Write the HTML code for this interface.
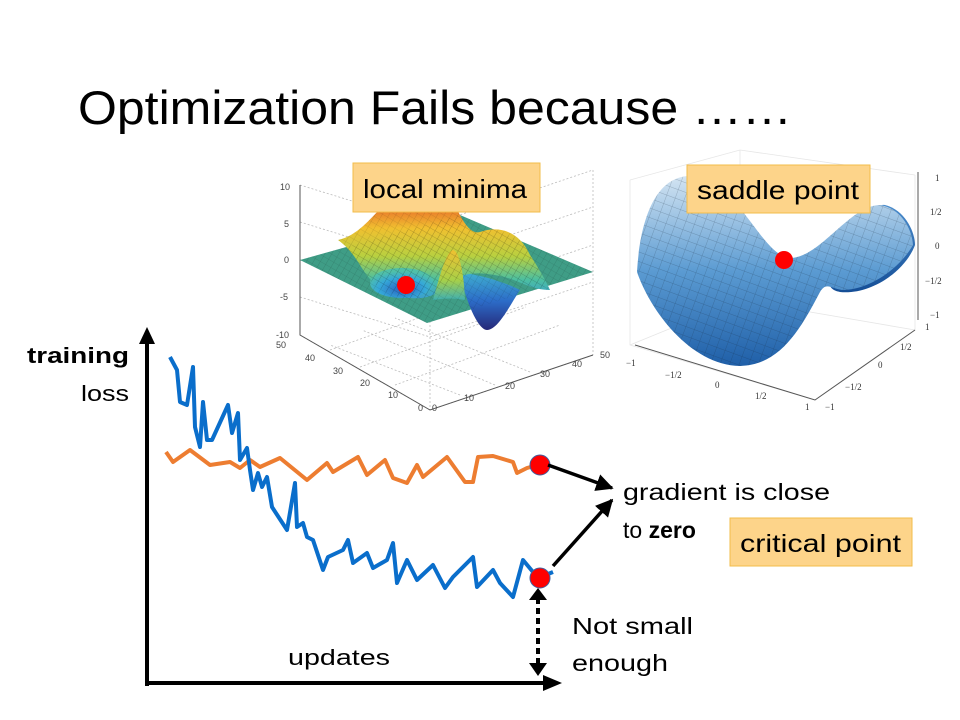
<!DOCTYPE html>
<html><head><meta charset="utf-8"><style>
html,body{margin:0;padding:0;background:#fff;}
svg{display:block;font-family:"Liberation Sans",sans-serif;}
</style></head><body>
<svg id="slide" width="960" height="720" viewBox="0 0 960 720" xmlns="http://www.w3.org/2000/svg">
<defs>
  <linearGradient id="gSad" x1="0" y1="0" x2="0" y2="1">
    <stop offset="0" stop-color="#d3e4f2"/><stop offset="0.5" stop-color="#5b9bd2"/><stop offset="1" stop-color="#1f5fa8"/>
  </linearGradient>
  <linearGradient id="gBack" x1="0" y1="0" x2="0" y2="1">
    <stop offset="0" stop-color="#4a8ccc"/><stop offset="1" stop-color="#154e96"/>
  </linearGradient>
  <linearGradient id="gMound" x1="0" y1="0" x2="0" y2="1">
    <stop offset="0" stop-color="#e8682a"/><stop offset="0.25" stop-color="#f0c030"/><stop offset="0.55" stop-color="#b8d040"/><stop offset="0.8" stop-color="#4cbfa0"/><stop offset="1" stop-color="#3aa0d0"/>
  </linearGradient>
  <linearGradient id="gMid" x1="0" y1="0" x2="0" y2="1">
    <stop offset="0" stop-color="#f0c030"/><stop offset="0.6" stop-color="#a8d048"/><stop offset="1" stop-color="#40b0b0"/>
  </linearGradient>
  <radialGradient id="gBowl" cx="0.5" cy="0.7" r="0.6">
    <stop offset="0" stop-color="#2a60c0"/><stop offset="0.6" stop-color="#35a8d8"/><stop offset="1" stop-color="#50c0a8"/>
  </radialGradient>
  <linearGradient id="gDip" x1="0" y1="0" x2="0" y2="1">
    <stop offset="0" stop-color="#40b0d0"/><stop offset="0.5" stop-color="#2c6cc8"/><stop offset="1" stop-color="#262878"/>
  </linearGradient>
  <pattern id="mesh" width="6" height="6" patternUnits="userSpaceOnUse" patternTransform="rotate(30)">
    <path d="M0 0H6M0 0V6" stroke="#000" stroke-opacity="0.22" stroke-width="0.6"/>
  </pattern>
  <pattern id="mesh2" width="9" height="9" patternUnits="userSpaceOnUse" patternTransform="rotate(20)">
    <path d="M0 0H9M0 0V9" stroke="#123" stroke-opacity="0.35" stroke-width="0.7"/>
  </pattern>
  <marker id="ah" viewBox="0 0 10 10" refX="9" refY="5" markerWidth="5" markerHeight="5" orient="auto">
    <path d="M0 0L10 5L0 10Z" fill="#000"/>
  </marker>
</defs>

<text x="78" y="124" font-size="47" textLength="714" lengthAdjust="spacingAndGlyphs" fill="#000">Optimization Fails because ……</text>

<!-- local minima 3D plot -->
<g font-size="9" fill="#444">
  <g stroke="#bbb" stroke-dasharray="2,2" fill="none" stroke-width="0.8">
    <path d="M300 185L430 225L430 410M430 225L593 170M300 185V335M593 170V355M300 335L430 410L593 355"/>
    <path d="M300 222L430 262L593 207M300 260L430 300L593 245M300 297L430 337L593 282"/>
    <path d="M330 350L496 290M360 367L526 307M395 385L560 325M460 395L330 345M495 385L362 330M530 372L395 318"/>
  </g>
  <path d="M300 185V335L430 410L593 355" stroke="#555" fill="none" stroke-width="1"/>
  <text x="280" y="190">10</text><text x="284" y="227">5</text><text x="284" y="263">0</text><text x="280" y="300">-5</text><text x="276" y="338">-10</text>
  <text x="276" y="348">50</text><text x="305" y="361">40</text><text x="333" y="374">30</text><text x="360" y="386">20</text><text x="388" y="398">10</text><text x="418" y="411">0</text>
  <text x="432" y="411">0</text><text x="464" y="401">10</text><text x="505" y="389">20</text><text x="540" y="377">30</text><text x="572" y="367">40</text><text x="600" y="358">50</text>
  <path d="M300 260L460 215L593 272L427 323Z" fill="#3f9d86"/>
  <path d="M460 272C465 300 478 330 487 330C498 330 510 305 520 290C505 282 480 275 460 272Z" fill="url(#gDip)"/>
  <path d="M338 240C360 235 372 215 385 205L455 205C462 220 470 235 480 232C500 225 520 232 530 255C540 270 548 285 550 290C530 290 520 280 500 276C480 272 465 272 455 280C440 292 430 300 410 298C385 296 372 285 360 265C352 252 345 245 338 240Z" fill="url(#gMound)"/>
  <ellipse cx="402" cy="283" rx="32" ry="15" fill="url(#gBowl)"/>
  <path d="M433 300C440 275 446 252 453 250C460 252 464 275 465 300C455 298 445 298 433 300Z" fill="url(#gMid)"/>
  <path d="M300 260L460 215L593 272L427 323Z" fill="url(#mesh)"/>
  <path d="M338 240C360 235 372 215 385 205L455 205C462 220 470 235 480 232C500 225 520 232 530 255C540 270 548 285 550 290C530 290 520 280 500 276C480 272 465 272 455 280C440 292 430 300 410 298C385 296 372 285 360 265C352 252 345 245 338 240Z" fill="url(#mesh)"/>
  <circle cx="406" cy="285" r="9" fill="#ff0000"/>
  <rect x="353" y="163" width="187" height="49" fill="#fdd48a" stroke="#f2bc4a"/>
  <text x="363" y="198" font-size="26" fill="#000" textLength="164" lengthAdjust="spacingAndGlyphs">local minima</text>
</g>

<!-- saddle plot -->
<g font-size="9" fill="#333" font-family="Liberation Serif, serif">
  <g stroke="#e6e6e6" fill="none" stroke-width="0.8">
    <path d="M630 180V345L815 400L915 330V175M630 180L740 150L915 175M740 150V300M630 345L740 300L915 330"/>
  </g>
  <path d="M635 345L815 400L915 330" stroke="#555" fill="none"/>
  <path d="M918 172V320" stroke="#555"/>
  <path d="M830 262C850 225 870 203 885 205C905 210 915 232 915 245C905 272 870 295 840 292C830 290 825 285 830 262Z" fill="url(#gBack)"/>
  <path d="M637 272C640 220 655 178 688 176C740 180 760 255 790 258C820 258 850 205 880 205C900 208 912 228 913 245C900 268 870 290 842 290C830 288 826 282 820 292C800 330 780 365 740 366C690 365 650 310 637 272Z" fill="url(#gSad)"/>
  <path d="M637 272C640 220 655 178 688 176C740 180 760 255 790 258C820 258 850 205 880 205C900 208 912 228 913 245C900 268 870 290 842 290C830 288 826 282 820 292C800 330 780 365 740 366C690 365 650 310 637 272Z" fill="url(#mesh2)"/>
  <circle cx="784" cy="260" r="9" fill="#ff0000"/>
  <rect x="687" y="165" width="183" height="48" fill="#fdd48a" stroke="#f2bc4a"/>
  <text x="697" y="199" font-size="26" fill="#000" font-family="Liberation Sans, sans-serif" textLength="162" lengthAdjust="spacingAndGlyphs">saddle point</text>
  <text x="935" y="181">1</text><text x="930" y="215">1/2</text><text x="935" y="249">0</text><text x="925" y="284">−1/2</text><text x="930" y="318">−1</text>
  <text x="626" y="366">−1</text><text x="665" y="378">−1/2</text><text x="715" y="388">0</text><text x="755" y="399">1/2</text><text x="805" y="410">1</text>
  <text x="825" y="410">−1</text><text x="845" y="390">−1/2</text><text x="878" y="368">0</text><text x="900" y="350">1/2</text><text x="925" y="330">1</text>
</g>

<!-- training loss chart -->
<g>
  <line x1="147" y1="686" x2="147" y2="340" stroke="#000" stroke-width="4"/>
  <path d="M139 344L147 327L155 344Z" fill="#000"/>
  <line x1="145" y1="683" x2="545" y2="683" stroke="#000" stroke-width="4"/>
  <path d="M543 675L562 683L543 691Z" fill="#000"/>
  <text x="129" y="363" font-size="22" font-weight="bold" text-anchor="end" textLength="102" lengthAdjust="spacingAndGlyphs">training</text>
  <text x="129" y="401" font-size="22" text-anchor="end" textLength="48" lengthAdjust="spacingAndGlyphs">loss</text>
  <text x="288" y="665" font-size="22" textLength="102" lengthAdjust="spacingAndGlyphs">updates</text>
  <g id="series"></g>
</g>

<line x1="548" y1="465" x2="612" y2="488" stroke="#000" stroke-width="3.5" marker-end="url(#ah)"/>
<line x1="553" y1="566" x2="612" y2="500" stroke="#000" stroke-width="3.5" marker-end="url(#ah)"/>
<line x1="538" y1="598" x2="538" y2="666" stroke="#000" stroke-width="4" stroke-dasharray="6,4"/>
<path d="M529 600L538 588L547 600Z" fill="#000"/>
<path d="M529 663L538 676L547 663Z" fill="#000"/>

<text x="623" y="500" font-size="23" textLength="207" lengthAdjust="spacingAndGlyphs">gradient is close</text>
<text x="623" y="538" font-size="23">to <tspan font-weight="bold">zero</tspan></text>
<rect x="730" y="518" width="182" height="48" fill="#fdd48a" stroke="#f2bc4a"/>
<text x="740" y="552" font-size="25" textLength="161" lengthAdjust="spacingAndGlyphs">critical point</text>
<text x="572" y="634" font-size="23" textLength="121" lengthAdjust="spacingAndGlyphs">Not small</text>
<text x="572" y="671" font-size="23" textLength="96" lengthAdjust="spacingAndGlyphs">enough</text>
</svg>
<script>
const blueUpdates=[5,6.75,7.5,9.25,10.75,11.25,12.5,13.25,14.25,15.5,19.5,20.5,22,22.5,24.25,25,25.75,27,28,29.25,30.5,34.25,36.25,36.75,38.25,39.25,40.75,43.25,44.5,48.25,49.5,50.75,54.25,55.75,59.25,60.75,61.75,64.25,66.75,70.75,73.75,75.75,80.75,81.75,85.75,87.5,90.75,93.25,97,100.75];
const blueLoss=[105.2,100,87.2,86,101.2,77.2,69.2,87.2,72,72,86,74.8,82.8,64,68.8,60,52,58.8,53.2,57.2,45.2,36,54.8,37.2,38.8,33.2,32,20,25.2,28,32,22.8,26.8,20.8,24,30.8,14.8,24,16,22,12.8,17.2,25.2,13.2,20,14.8,9.2,24,16.8,19.2];
const orangeUpdates=[4,5.75,10,15,20,22.5,25,27.5,32.5,39.25,44.25,45.75,52,54.25,58.75,60.75,64.25,66.75,68.25,74.25,78.75,80.75,82,85.75,90.75,91.75,94.25,97];
const orangeLoss=[67.2,63.2,68,62,63.2,60.8,64,61.2,64.8,56,62.8,59.2,65.2,58,64,56.8,54.8,62,57.2,65.2,55.2,55.2,65.2,65.6,63.2,58.8,60.8,62];
const criticalUpdates=[97,97];
const criticalLoss=[62,16.8];
const xScale=u=>150+u*4;
const yScale=v=>620-v*2.5;
const NS='http://www.w3.org/2000/svg';
const g=document.getElementById('series');
function line(xs,ys,color,name){
  const p=document.createElementNS(NS,'polyline');
  p.setAttribute('points',xs.map((u,i)=>xScale(u)+','+yScale(ys[i])).join(' '));
  p.setAttribute('fill','none');p.setAttribute('stroke',color);
  p.setAttribute('stroke-width','4');p.setAttribute('stroke-linejoin','round');
  
  
  g.appendChild(p);
}
line(orangeUpdates,orangeLoss,'#ed7d31','orange-loss-line');
line(blueUpdates,blueLoss,'#0a6ecb','blue-loss-line');
criticalUpdates.forEach((u,i)=>{
  const c=document.createElementNS(NS,'circle');
  c.setAttribute('cx',xScale(u)+2);c.setAttribute('cy',yScale(criticalLoss[i]));
  c.setAttribute('r','10');c.setAttribute('fill','#ff0000');c.setAttribute('stroke','#4060a0');
  
  
  g.appendChild(c);
});
</script>
</body></html>
